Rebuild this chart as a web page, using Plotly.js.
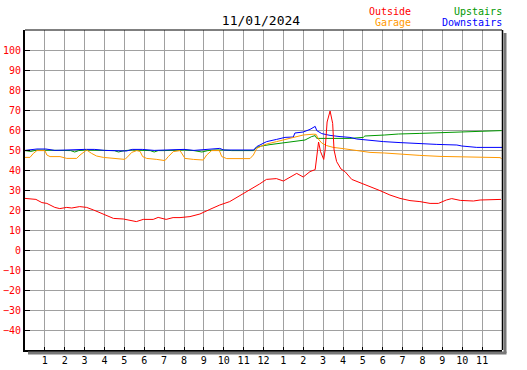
<!DOCTYPE html>
<html><head><meta charset="utf-8">
<script src="https://cdn.plot.ly/plotly-3.0.1.min.js"></script>
<style>html,body{margin:0;padding:0;background:#fff;}#c{width:527px;height:370px;}</style>
</head><body><div id="c"></div>
<script>
const chartTitle = "11/01/2024";
const seriesNames = ["Outside", "Garage", "Upstairs", "Downstairs"];
const tickHours = [1,2,3,4,5,6,7,8,9,10,11,12,13,14,15,16,17,18,19,20,21,22,23];
const tickLabels = ["1","2","3","4","5","6","7","8","9","10","11","12","1","2","3","4","5","6","7","8","9","10","11"];
const yTicks = [-40,-30,-20,-10,0,10,20,30,40,50,60,70,80,90,100];

const outsideH = [0,0.55,0.85,1.1,1.5,1.75,2.1,2.35,2.75,3.1,3.45,3.77,4.1,4.45,4.95,5.3,5.6,5.95,6.45,6.7,7.1,7.45,7.8,8.3,8.8,9.3,9.8,10.3,10.8,11.3,11.8,12.15,12.65,13.0,13.33,13.67,14.0,14.34,14.6,14.68,14.77,14.87,15.03,15.1,15.2,15.35,15.48,15.55,15.68,15.9,16.1,16.44,16.86,17.36,17.86,18.36,18.87,19.37,19.87,20.38,20.8,21.2,21.47,21.9,22.56,22.9,23.56,23.95];
const outsideV = [25.8,25.3,23.7,23.3,21.3,20.7,21.3,21,21.7,21.3,20,18.7,17,15.8,15.5,15,14.2,15.3,15.3,16.3,15.3,16.2,16.2,16.7,18,20.3,22.5,24.2,27,30,33,35.3,35.7,34.5,36.5,38.3,36.5,39.2,40.2,46.7,54,49.2,45.3,50,64,69.5,63.3,50,44.2,40.5,39.2,35.3,33.7,31.7,29.7,27.5,25.8,24.7,24.2,23.3,23.3,25,25.7,24.8,24.5,25,25.3,25.3];

const garageH = [0,0.25,0.42,0.6,1.0,1.1,1.26,1.76,2.1,2.6,2.77,3.02,3.1,3.35,3.6,3.94,4.44,5.03,5.2,5.37,5.62,5.79,5.92,6.12,6.63,7.04,7.21,7.46,7.8,8.05,8.47,8.97,9.14,9.39,9.78,9.9,10.15,10.65,11.32,11.49,11.66,11.9,12.16,12.66,13.08,13.5,14.0,14.5,14.65,14.76,14.93,15.18,15.51,16.0,16.35,16.86,17.36,18.1,18.95,19.87,20.88,22.2,22.9,23.9,23.98];
const garageV = [46.3,46.3,48.3,49.7,49.7,47.5,46.7,46.7,45.8,45.8,47.5,49.7,50,48.3,47,46.3,45.8,45.3,47,48.8,49.7,49.3,46.7,45.8,45.3,44.7,46.7,49.2,49.7,45.8,45.3,45,47.5,49.7,49.7,46.7,45.7,45.7,45.7,47.5,50.8,52,53,54.2,55.3,56.3,57.5,57.9,57.8,55.5,53.5,52.2,51.3,50.7,50.3,49.5,48.8,48.5,47.8,47.3,46.8,46.5,46.2,46.2,45.7];

const upstairsH = [0,0.3,0.6,1.0,1.3,2.3,2.5,2.7,3.0,3.5,4.0,4.5,4.7,5.0,5.4,5.9,6.3,6.5,6.7,7.0,7.5,8.0,8.5,8.9,9.2,9.5,10.0,10.4,11.0,11.5,11.66,11.9,12.33,12.83,13.5,14.09,14.42,14.6,14.68,15.35,16.35,17.02,17.1,18.1,18.79,19.87,21.2,22.73,23.98];
const upstairsV = [49.7,49.3,50,50,49.7,49.7,49,49.7,50,50,49.7,49.7,49,49.7,50,50,49.7,49,49.7,49.7,50,50,49.7,49,49.7,50,50,49.7,49.7,49.7,51.3,52,52.7,53.4,54.2,55,56.7,57.2,55.8,55.8,55.8,56.3,57,57.5,58,58.3,58.8,59.3,59.7];

const downstairsH = [0,0.6,1.05,1.5,3.0,3.5,4.0,4.6,5.1,5.4,5.9,6.5,7.5,8.0,8.5,9.5,9.8,10.0,11.5,11.66,11.82,12.0,12.16,12.66,13.08,13.5,13.58,14.0,14.34,14.6,14.68,14.93,15.35,15.85,16.35,16.69,17.36,18.03,18.87,19.46,20.72,21.73,21.98,22.73,24];
const downstairsV = [49.8,50.5,50.5,49.8,50.3,50.3,49.8,49.5,49.5,50.3,50.3,49.8,50.3,50.3,49.8,50.5,50.8,50,50,51.7,52.5,53.7,54.2,55.3,56.3,56.5,58.5,59,60.3,61.8,59.7,58.2,57.3,56.7,56.3,55.5,54.7,54.2,53.7,53.3,52.8,52.5,52,51.3,51.3];

const colors = {Outside:"#ff0000", Garage:"#ff9900", Upstairs:"#009900", Downstairs:"#0000ff"};
const font = "DejaVu Sans Mono, monospace";

function tr(x, y, name) {
  return {x: x, y: y, name: name, type: "scatter", mode: "lines",
          line: {color: colors[name], width: 1}, hoverinfo: "skip"};
}
const data = [
  tr(upstairsH, upstairsV, "Upstairs"),
  tr(downstairsH, downstairsV, "Downstairs"),
  tr(garageH, garageV, "Garage"),
  tr(outsideH, outsideV, "Outside")
];

const W = 477, H = 320;
const layout = {
  width: 527, height: 370,
  margin: {l: 25, r: 25, t: 30, b: 20, pad: 0},
  paper_bgcolor: "#fff", plot_bgcolor: "#fff",
  showlegend: false,
  font: {family: font, size: 10, color: "#000"},
  title: {text: chartTitle, x: 261/527, xanchor: "center", y: 1 - 20/370, yanchor: "middle",
          font: {family: font, size: 13, color: "#000", weight: 400}},
  xaxis: {range: [0, 24], tickvals: tickHours, ticktext: tickLabels,
          showgrid: true, gridcolor: "#a0a0a0", gridwidth: 1, zeroline: false,
          showline: true, linecolor: "#000", linewidth: 2,
          ticks: "inside", ticklen: 3, tickcolor: "#000", tickwidth: 1,
          tickfont: {family: font, size: 10, color: "#000"}, fixedrange: true},
  yaxis: {range: [-50, 110], tickvals: yTicks,
          showgrid: true, gridcolor: "#a0a0a0", gridwidth: 1, zeroline: false,
          showline: true, linecolor: "#000", linewidth: 2,
          ticks: "inside", ticklen: 5, tickcolor: "#000", tickwidth: 1,
          tickfont: {family: font, size: 10, color: "#ff0000"}, fixedrange: true},
  shapes: [
    {type: "line", xref: "paper", yref: "paper", x0: 0, x1: 1, y0: 1, y1: 1, line: {color: "#000", width: 1}},
    {type: "line", xref: "paper", yref: "paper", x0: 1 + 0.5/W, x1: 1 + 0.5/W, y0: 0, y1: 1, line: {color: "#000", width: 1.5}},
    {type: "line", xref: "paper", yref: "paper", x0: 1 + 3/W, x1: 1 + 3/W, y0: -3/H, y1: 1 - 3/H, line: {color: "#777", width: 3}},
    {type: "line", xref: "paper", yref: "paper", x0: 3/W, x1: 1 + 4.5/W, y0: -3/H, y1: -3/H, line: {color: "#777", width: 3}}
  ],
  annotations: [
    {text: "Outside", xref: "paper", yref: "paper", x: (413-25)/W, y: (350-11)/H, xanchor: "right", yanchor: "middle", showarrow: false, font: {family: font, size: 10, color: colors.Outside}},
    {text: "Garage", xref: "paper", yref: "paper", x: (413-25)/W, y: (350-23)/H, xanchor: "right", yanchor: "middle", showarrow: false, font: {family: font, size: 10, color: colors.Garage}},
    {text: "Upstairs", xref: "paper", yref: "paper", x: (504-25)/W, y: (350-11)/H, xanchor: "right", yanchor: "middle", showarrow: false, font: {family: font, size: 10, color: colors.Upstairs}},
    {text: "Downstairs", xref: "paper", yref: "paper", x: (504-25)/W, y: (350-23)/H, xanchor: "right", yanchor: "middle", showarrow: false, font: {family: font, size: 10, color: colors.Downstairs}}
  ]
};
Plotly.newPlot("c", data, layout, {staticPlot: true, displayModeBar: false});
</script></body></html>
